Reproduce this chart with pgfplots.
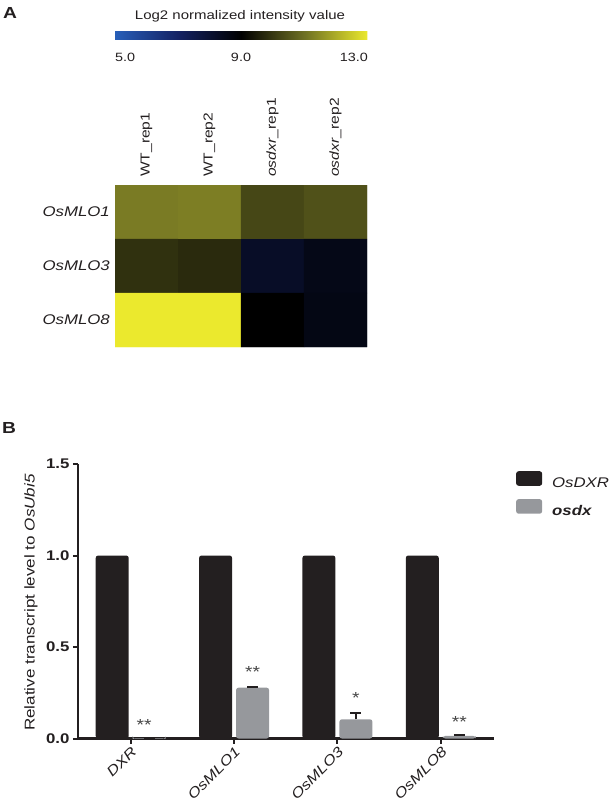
\documentclass[border=0pt]{standalone}
\usepackage{pgfplots}
\pgfplotsset{compat=1.18}
\usepackage{fontspec}
\setmainfont{Liberation Sans}[FakeStretch=1.2]
\newcommand{\fs}[1]{\fontsize{#1}{#1}\selectfont}
\definecolor{bk}{RGB}{35,31,32}
\definecolor{gy}{RGB}{150,152,156}
\definecolor{ast}{RGB}{70,70,70}

\pgfplotstableread{
x y C
0 0 11.19
1 0 11.24
2 0 10.27
3 0 10.45
0 1 9.87
1 1 9.76
2 1 8.22
3 1 8.55
0 2 13.0
1 2 13.0
2 2 9.0
3 2 8.6
}\heat

\begin{document}
\begin{tikzpicture}
\path[use as bounding box] (0pt,0pt) rectangle (610pt,-802pt);
\node[anchor=north west, inner sep=0pt, font=\bfseries\fs{16}, text=bk] at (3pt,-7pt) {A};
\node[anchor=north west, inner sep=0pt, font=\bfseries\fs{16}, text=bk] at (2pt,-422pt) {B};

% colorbar labels
\node[anchor=base, inner sep=0pt, font=\fs{12.5}, text=bk] at (240pt,-20pt) {Log2 normalized intensity value};
\node[anchor=base west, inner sep=0pt, font=\fs{12}, text=bk] at (115pt,-62pt) {5.0};
\node[anchor=base, inner sep=0pt, font=\fs{12}, text=bk] at (241pt,-62pt) {9.0};
\node[anchor=base east, inner sep=0pt, font=\fs{12}, text=bk] at (368pt,-62pt) {13.0};

\begin{axis}[at={(115pt,-347pt)}, anchor=south west, scale only axis,
  width=252pt, height=162pt,
  xmin=-0.5, xmax=3.5, ymin=-0.5, ymax=2.5, y dir=reverse,
  colormap={hm}{rgb255=(40,95,185) rgb255=(20,34,100) rgb255=(0,0,0) rgb255=(110,112,35) rgb255=(235,233,45)},
  point meta min=5, point meta max=13,
  xtick={0,1,2,3},
  xticklabels={WT\_rep1, WT\_rep2, \textit{osdxr}\_rep1, \textit{osdxr}\_rep2},
  xticklabel pos=upper, xticklabel shift=8pt,
  xticklabel style={rotate=90, anchor=west, inner sep=0pt, font=\fs{13}, text=bk},
  ytick={0,1,2}, yticklabels={OsMLO1,OsMLO3,OsMLO8},
  yticklabel shift=5pt,
  yticklabel style={anchor=east, inner sep=0pt, font=\itshape\fs{14}, text=bk},
  major tick length=0pt, axis line style={draw=none},
  colorbar horizontal,
  colorbar style={at={(parent axis.north)}, anchor=south, yshift=154pt,
    scale only axis, width=253pt, height=8pt,
    xtick=\empty, ytick=\empty, axis line style={draw=none}, major tick length=0pt},
]
\addplot[matrix plot*, mesh/cols=4, point meta=explicit] table[x=x, y=y, meta=C] {\heat};
\end{axis}

\begin{axis}[at={(78pt,-738.5pt)}, anchor=south west, scale only axis,
  width=415.5pt, height=274.5pt,
  xmin=-0.51, xmax=3.51, ymin=0, ymax=1.5,
  axis lines=left, axis line style={-, line width=2.2pt, draw=bk},
  tick align=outside, major tick length=5pt, tick style={line width=2pt, draw=bk},
  xtick={0,1,2,3}, xticklabels={DXR,OsMLO1,OsMLO3,OsMLO8},
  xticklabel shift=-2.5pt,
  xticklabel style={rotate=45, anchor=north east, font=\itshape\fs{14}, text=bk},
  ytick={0,0.5,1,1.5}, yticklabels={0.0,0.5,1.0,1.5},
  yticklabel style={font=\bfseries\fs{14}, text=bk},
  ylabel={Relative transcript level to \textit{OsUbi5}},
  ylabel style={font=\fs{14.2}, text=bk, at={(axis description cs:-0.113,0.495)}, anchor=center},
  legend style={at={(1.054,0.9745)}, anchor=north west, draw=none, fill=none,
    font=\fs{14}, text=bk, inner sep=0pt, row sep=10pt, column sep=10pt,
    nodes={inner sep=0pt}},
  legend cell align=left,
]
\addplot[ybar, bar width=33pt, bar shift=0pt, fill=bk, draw=none, rounded corners=2.5pt,
  legend image code/.code={\fill[bk, rounded corners=2.5pt] (0pt,-2.3pt) rectangle (26pt,12.3pt);}]
  coordinates {(-0.179,1) (0.821,1) (1.821,1) (2.821,1)};
\addlegendentry{\textit{OsDXR}}
\addplot[ybar, bar width=33pt, bar shift=0pt, fill=gy, draw=none, rounded corners=2.5pt,
  legend image code/.code={\fill[gy, rounded corners=2.5pt] (0pt,-2.3pt) rectangle (26pt,12.3pt);},
  error bars/.cd, y dir=plus, y explicit,
  error bar style={line width=2pt, draw=bk, sharp corners},
  error mark options={rotate=90, mark size=5.5pt, line width=2pt, draw=bk}]
  coordinates {(0.179,0.002) +- (0,0) (1.179,0.278) +- (0,0.006) (2.179,0.105) +- (0,0.037) (3.179,0.014) +- (0,0.003)};
\addlegendentry{\textbf{\textit{osdx}}}
\node[anchor=north, inner sep=0pt, font=\fs{16}, text=ast] at (axis cs:0.13,0.107) {**};
\node[anchor=north, inner sep=0pt, font=\fs{16}, text=ast] at (axis cs:1.179,0.392) {**};
\node[anchor=north, inner sep=0pt, font=\fs{16}, text=ast] at (axis cs:2.179,0.251) {*};
\node[anchor=north, inner sep=0pt, font=\fs{16}, text=ast] at (axis cs:3.179,0.123) {**};
\end{axis}
\end{tikzpicture}
\end{document}
